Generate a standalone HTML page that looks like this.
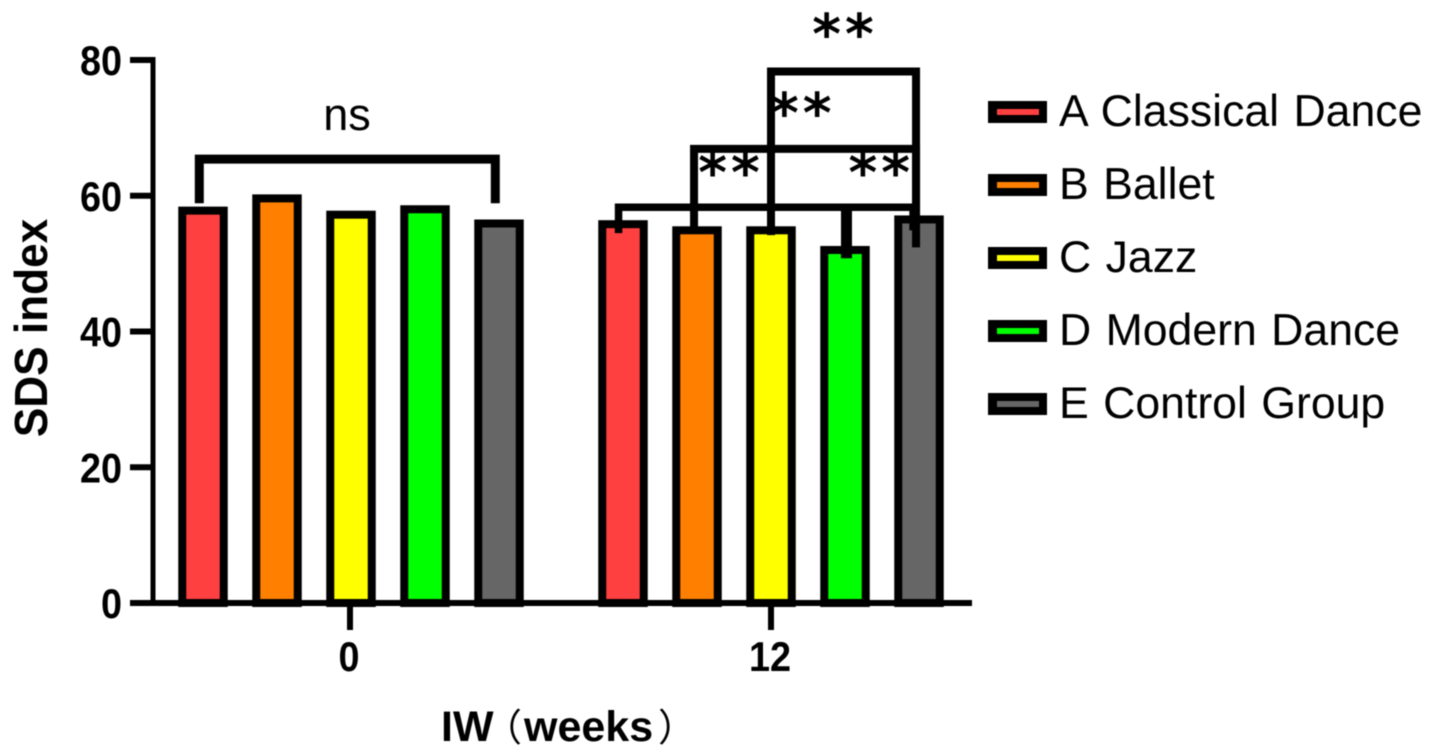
<!DOCTYPE html>
<html lang="en">
<head>
<meta charset="utf-8">
<title>SDS index bar chart</title>
<style>
html,body{margin:0;padding:0;background:#fff;width:1439px;height:750px;overflow:hidden}
svg{display:block;filter:blur(0.5px)}
text{fill:#000;font-family:"Liberation Sans","Noto Sans CJK SC",sans-serif}
</style>
</head>
<body>
<svg id="chart" xmlns="http://www.w3.org/2000/svg" width="1439" height="750" viewBox="0 0 1439 750"></svg>
<script>
const groupLabels = ['0', '12'];
const seriesNames = ['A Classical Dance', 'B Ballet', 'C Jazz', 'D Modern Dance', 'E Control Group'];
const seriesA = [58.4, 56.4];
const seriesB = [60.2, 55.5];
const seriesC = [57.8, 55.5];
const seriesD = [58.6, 52.6];
const seriesE = [56.5, 57.1];
const yTicks = [0, 20, 40, 60, 80];
const seriesColors = ['#FF4040', '#FF8000', '#FFFF00', '#00FF00', '#666666'];

const allSeries = [seriesA, seriesB, seriesC, seriesD, seriesE];
const NS = 'http://www.w3.org/2000/svg';
const svg = document.getElementById('chart');

function yScale(v) { return 603 - v * (543 / 80); }
function groupCenter(g) { return 350 + g * 421; }
function barX(g, slot) { return groupCenter(g) + (slot - 2) * 74 + (g === 0 ? 1 : 0); }

function make(tag, attrs, parent) {
  const el = document.createElementNS(NS, tag);
  for (const k in attrs) el.setAttribute(k, attrs[k]);
  (parent || svg).appendChild(el);
  return el;
}

// Bars
allSeries.forEach(function (values, s) {
  values.forEach(function (v, g) {
    const w = 49.5, sw = 8;
    const bar = make('rect', {
      x: barX(g, s) - w / 2 + sw / 2,
      y: yScale(v) + sw / 2,
      width: w - sw,
      height: yScale(0) - yScale(v) - sw / 2,
      fill: seriesColors[s],
      stroke: '#000',
      'stroke-width': sw
    });
    
    
  });
});

// Y axis
const yAxis = make('line', { x1: 153, x2: 153, y1: yScale(80) - 3, y2: yScale(0) + 3, stroke: '#000', 'stroke-width': 5 });


yTicks.forEach(function (t) {
  const tick = make('line', { x1: 130, x2: 153, y1: yScale(t), y2: yScale(t), stroke: '#000', 'stroke-width': 6 });
  
  
  const label = make('text', { transform: 'translate(122 ' + (yScale(t) + 15) + ') scale(.9 1)', 'text-anchor': 'end', 'font-size': 42, 'font-weight': 700 });
  label.textContent = t;
  
  
});

// X axis
const xAxis = make('line', { x1: 130, x2: 972, y1: yScale(0), y2: yScale(0), stroke: '#000', 'stroke-width': 6 });


groupLabels.forEach(function (lab, g) {
  const tick = make('line', { x1: groupCenter(g), x2: groupCenter(g), y1: yScale(0), y2: 630, stroke: '#000', 'stroke-width': 6 });
  
  
  const label = make('text', { transform: 'translate(' + (groupCenter(g) - 1) + ' 671) scale(.9 1)', 'text-anchor': 'middle', 'font-size': 42, 'font-weight': 700 });
  label.textContent = lab;
  
  
});
</script>
<script>
// Significance stars and brackets
const starLabels = [
  { g: 1, slot: 3.0, level: 85.2 },
  { g: 1, slot: 2.43, level: 73.6 },
  { g: 1, slot: 1.46, level: 64.8 },
  { g: 1, slot: 3.49, level: 64.8 }
];
const brackets = [
  { g: 0, a: -0.05, b: 3.95, level: 65.4, endA: 58.9, endB: 58.9 },
  { g: 1, a: -0.06, b: 3.92, level: 58.3, endA: 54.5, endB: 54.9 },
  { g: 1, a: 0.96, b: 3.96, level: 66.9, endA: 55.4, endB: 55 },
  { g: 1, a: 2.0, b: 3.96, level: 78.3, endA: 54.2, endB: 52.4 }
];
const stems = [{ g: 1, slot: 3.02, from: 58.3, to: 50.8 }];

starLabels.forEach(function (s, i) {
  const t = make('text', {
    x: barX(s.g, s.slot),
    y: yScale(s.level) + 29,
    'text-anchor': 'middle',
    'font-size': 55,
    'font-weight': 700,
    'letter-spacing': 4,
    style: 'font-family:"DejaVu Sans",sans-serif'
  });
  t.textContent = '**';
  
  
});

brackets.forEach(function (b, i) {
  const xa = barX(b.g, b.a), xb = barX(b.g, b.b);
  const p = make('path', {
    d: 'M' + xa + ' ' + yScale(b.endA) + 'V' + yScale(b.level) + 'H' + xb + 'V' + yScale(b.endB),
    fill: 'none',
    stroke: '#000',
    'stroke-width': i === 0 ? 9 : (i === 1 ? 7.5 : 8),
    'stroke-linejoin': 'miter'
  });
  
  
});

stems.forEach(function (s) {
  const x = barX(s.g, s.slot);
  const l = make('line', { x1: x, x2: x, y1: yScale(s.from), y2: yScale(s.to), stroke: '#000', 'stroke-width': 11 });
  
  
});

const nsLabel = make('text', { x: 347, y: 130, 'text-anchor': 'middle', 'font-size': 45 });
nsLabel.textContent = 'ns';



// Legend
seriesNames.forEach(function (name, i) {
  const cy = 112 + i * 73;
  const sw = make('rect', { x: 988, y: cy - 11, width: 59, height: 22, fill: '#000' });
  
  
  const inner = make('rect', { x: 997, y: cy - 3, width: 42, height: 6, fill: seriesColors[i] });
  
  
  const t = make('text', { x: 1059, y: cy + 14, 'font-size': 44.6, 'word-spacing': 2 });
  t.textContent = name;
  
  
});

// Axis titles
const yTitle = make('text', { transform: 'translate(47 328) rotate(-90) scale(.96 1)', 'text-anchor': 'middle', 'font-size': 46, 'font-weight': 700 });
yTitle.textContent = 'SDS index';



const xTitle = make('text', { y: 741, 'font-size': 43, 'font-weight': 700 });


const partIW = make('tspan', { x: 441 }, xTitle);
partIW.textContent = 'IW';
const partOpen = make('tspan', { x: 484, 'font-size': 38, 'font-weight': 400 }, xTitle);
partOpen.textContent = '（';
const partWeeks = make('tspan', { x: 524 }, xTitle);
partWeeks.textContent = 'weeks';
const partClose = make('tspan', { x: 658, 'font-size': 38, 'font-weight': 400 }, xTitle);
partClose.textContent = '）';
</script>
</body>
</html>
